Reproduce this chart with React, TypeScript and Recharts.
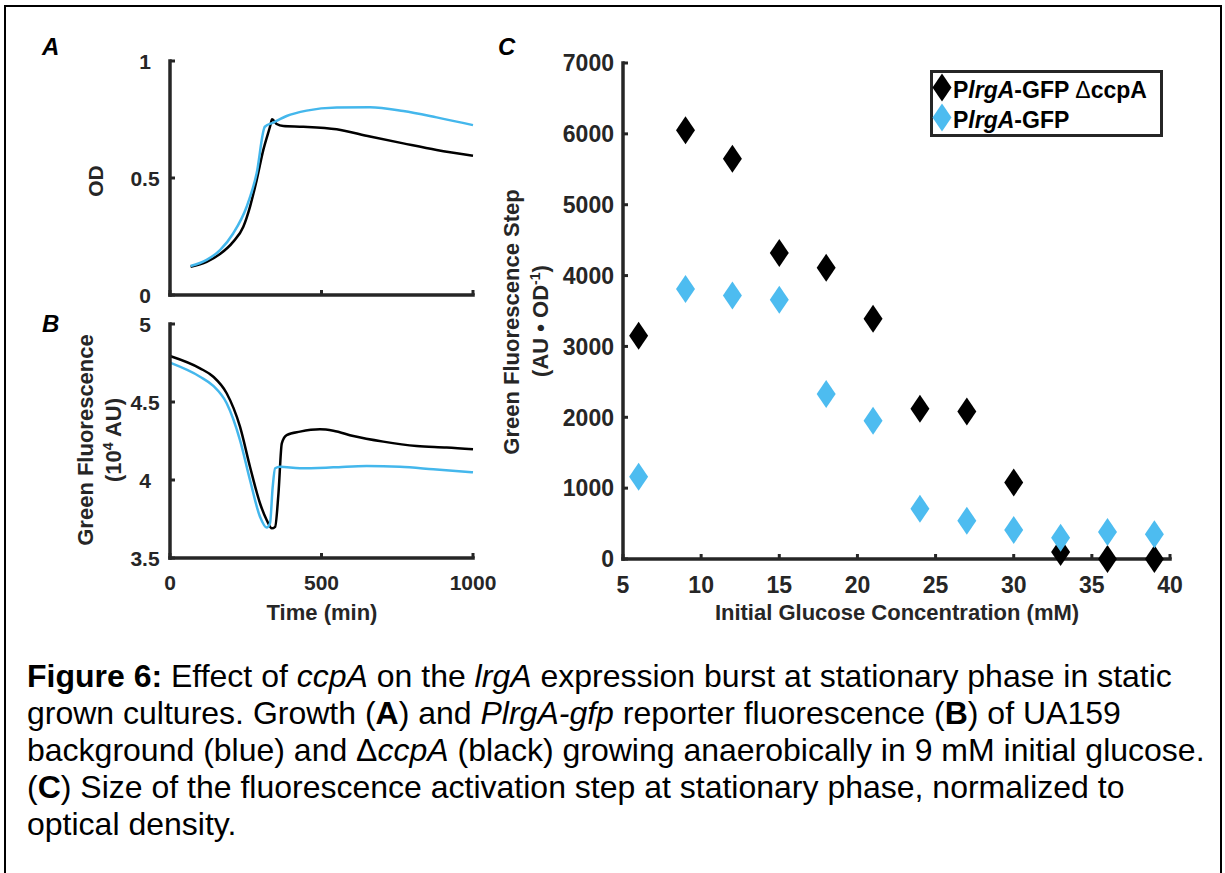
import { LineChart, Line, XAxis, YAxis, ScatterChart, Scatter } from "recharts"

const AXIS = "#262626"
const BLUE_LINE = "#44b7ec"
const BLUE_DOT = "#4dbcf0"
const FONT = "'Liberation Sans', Arial, Helvetica, sans-serif"

// Panel A: growth (OD) vs time (min)
const odTimeCcpA = [68, 121, 165, 209, 242, 264, 286, 308, 330, 337, 352, 374, 440, 550, 660, 770, 880, 1000]
const odCcpA = [0.121, 0.142, 0.175, 0.228, 0.292, 0.377, 0.491, 0.62, 0.719, 0.751, 0.731, 0.722, 0.719, 0.708, 0.677, 0.648, 0.62, 0.595]
const odTimeWt = [68, 121, 165, 209, 253, 286, 313, 341, 385, 451, 550, 660, 770, 880, 1000]
const odWt = [0.124, 0.15, 0.192, 0.264, 0.377, 0.52, 0.719, 0.737, 0.765, 0.788, 0.801, 0.802, 0.786, 0.759, 0.726]

// Panel B: green fluorescence (10^4 AU) vs time (min)
const flTimeCcpA = [0, 99, 143, 187, 231, 264, 297, 319, 336, 347, 358, 369, 385, 429, 495, 539, 605, 704, 814, 913, 1000]
const flCcpA = [4.795, 4.716, 4.662, 4.556, 4.342, 4.085, 3.851, 3.744, 3.69, 3.7, 3.915, 4.235, 4.288, 4.31, 4.325, 4.316, 4.282, 4.246, 4.218, 4.209, 4.197]
const flTimeWt = [0, 99, 143, 187, 231, 264, 297, 319, 330, 339, 347, 363, 429, 539, 649, 759, 869, 1000]
const flWt = [4.752, 4.662, 4.603, 4.492, 4.256, 4.0, 3.765, 3.695, 3.722, 3.957, 4.075, 4.085, 4.075, 4.081, 4.09, 4.085, 4.069, 4.049]

// Panel C: fluorescence step vs initial glucose (mM)
const glucose = [6, 9, 12, 15, 18, 21, 24, 27, 30, 33, 36, 39]
const stepCcpA = [3150, 6050, 5650, 4320, 4110, 3390, 2120, 2080, 1080, 100, 0, 0]
const stepWt = [1160, 3810, 3720, 3660, 2330, 1950, 710, 540, 410, 300, 380, 350]

const timeTicks = [0, 500, 1000]
const odTicks = [0, 0.5, 1]
const flTicks = [3.5, 4, 4.5, 5]
const glucoseTicks = [5, 10, 15, 20, 25, 30, 35, 40]
const stepTicks = [0, 1000, 2000, 3000, 4000, 5000, 6000, 7000]

const toPoints = (xs: number[], ys: number[]) => xs.map((x, i) => ({ x, y: ys[i] }))

const axisLine = { stroke: AXIS, strokeWidth: 3.5, strokeLinecap: "square" as const }

function LeftTick(props: any) {
  const { x, y, payload, labelX, anchor, fontSize } = props
  return (
    <g>
      <line x1={x} x2={x + 5} y1={y} y2={y} stroke={AXIS} strokeWidth={3} />
      <text
        x={x + labelX}
        y={y}
        dy="0.36em"
        textAnchor={anchor}
        fontSize={fontSize}
        fontWeight="bold"
        fontFamily={FONT}
        fill={AXIS}
      >
        {String(payload.value)}
      </text>
    </g>
  )
}

function BottomTick(props: any) {
  const { x, y, payload, showLabel, labelY, fontSize } = props
  return (
    <g>
      <line x1={x} x2={x} y1={y} y2={y - 5} stroke={AXIS} strokeWidth={3} />
      {showLabel && (
        <text
          x={x}
          y={y + labelY}
          textAnchor="middle"
          fontSize={fontSize}
          fontWeight="bold"
          fontFamily={FONT}
          fill={AXIS}
        >
          {String(payload.value)}
        </text>
      )}
    </g>
  )
}

const diamond = (fill: string) => (props: any) => {
  const { cx, cy } = props
  return (
    <polygon
      points={`${cx},${cy - 14} ${cx + 9.5},${cy} ${cx},${cy + 14} ${cx - 9.5},${cy}`}
      fill={fill}
    />
  )
}

function TimePanel({
  top,
  height,
  plotTop,
  xAxisHeight,
  domain,
  ticks,
  showX,
  black,
  blue,
}: {
  top: number
  height: number
  plotTop: number
  xAxisHeight: number
  domain: [number, number]
  ticks: number[]
  showX: boolean
  black: { x: number; y: number }[]
  blue: { x: number; y: number }[]
}) {
  return (
    <div style={{ position: "absolute", left: 0, top }}>
      <LineChart width={500} height={height} margin={{ top: plotTop, right: 27, left: 0, bottom: 0 }}>
        <XAxis
          dataKey="x"
          type="number"
          domain={[0, 1000]}
          ticks={timeTicks}
          height={xAxisHeight}
          axisLine={axisLine}
          tickLine={false}
          tickSize={0}
          tickMargin={0}
          interval={0}
          tick={(p: any) => <BottomTick {...p} showLabel={showX} labelY={32} fontSize={21} />}
        />
        <YAxis
          dataKey="y"
          type="number"
          domain={domain}
          ticks={ticks}
          width={170}
          axisLine={axisLine}
          tickLine={false}
          tickSize={0}
          tickMargin={0}
          interval={0}
          tick={(p: any) => <LeftTick {...p} labelX={-25} anchor="middle" fontSize={21} />}
        />
        <Line
          data={black}
          dataKey="y"
          type="monotone"
          stroke="#000"
          strokeWidth={2.5}
          dot={false}
          isAnimationActive={false}
        />
        <Line
          data={blue}
          dataKey="y"
          type="monotone"
          stroke={BLUE_LINE}
          strokeWidth={2.5}
          dot={false}
          isAnimationActive={false}
        />
      </LineChart>
    </div>
  )
}

const labelStyle = {
  fontFamily: FONT,
  fontWeight: "bold" as const,
  fill: AXIS,
}

export default function App() {
  return (
    <div style={{ position: "absolute", left: 0, top: 0, width: 1225, height: 873, background: "#fff", overflow: "hidden" }}>
      <TimePanel
        top={0}
        height={320}
        plotTop={61}
        xAxisHeight={25}
        domain={[0, 1]}
        ticks={odTicks}
        showX={false}
        black={toPoints(odTimeCcpA, odCcpA)}
        blue={toPoints(odTimeWt, odWt)}
      />
      <TimePanel
        top={300}
        height={340}
        plotTop={24}
        xAxisHeight={82}
        domain={[3.5, 5]}
        ticks={flTicks}
        showX={true}
        black={toPoints(flTimeCcpA, flCcpA)}
        blue={toPoints(flTimeWt, flWt)}
      />

      <div style={{ position: "absolute", left: 480, top: 0 }}>
        <ScatterChart width={745} height={640} margin={{ top: 63, right: 55, left: 0, bottom: 0 }}>
          <XAxis
            dataKey="x"
            type="number"
            domain={[5, 40]}
            ticks={glucoseTicks}
            height={81}
            axisLine={axisLine}
            tickLine={false}
            tickSize={0}
            tickMargin={0}
            interval={0}
            tick={(p: any) => <BottomTick {...p} showLabel={true} labelY={34} fontSize={23} />}
          />
          <YAxis
            dataKey="y"
            type="number"
            domain={[0, 7000]}
            ticks={stepTicks}
            width={143}
            axisLine={axisLine}
            tickLine={false}
            tickSize={0}
            tickMargin={0}
            interval={0}
            tick={(p: any) => <LeftTick {...p} labelX={-9} anchor="end" fontSize={23} />}
          />
          <Scatter
            data={toPoints(glucose, stepCcpA)}
            shape={diamond("#000")}
            isAnimationActive={false}
          />
          <Scatter
            data={toPoints(glucose, stepWt)}
            shape={diamond(BLUE_DOT)}
            isAnimationActive={false}
          />
        </ScatterChart>
      </div>

      {/* frame, panel letters, axis titles and legend */}
      <svg
        width={1225}
        height={873}
        style={{ position: "absolute", left: 0, top: 0, pointerEvents: "none" }}
      >
        <rect x={5} y={6} width={1216} height={900} fill="none" stroke="#000" strokeWidth={2} />

        <g fontFamily={FONT} fontWeight="bold" fontStyle="italic" fontSize={24} fill="#000">
          <text x={42} y={55}>A</text>
          <text x={42} y={332}>B</text>
          <text x={498} y={55}>C</text>
        </g>

        <g {...labelStyle} fontSize={21} textAnchor="middle">
          <text x={95} y={181} dy="0.36em" transform="rotate(-90 95 181)">OD</text>
        </g>
        <g {...labelStyle} fontSize={22} textAnchor="middle">
          <text x={85} y={440} dy="0.36em" transform="rotate(-90 85 440)">Green Fluorescence</text>
          <text x={113} y={440} dy="0.36em" transform="rotate(-90 113 440)">
            (10<tspan dy={-8} fontSize={14}>4</tspan>
            <tspan dy={8}> AU)</tspan>
          </text>
          <text x={322} y={620}>Time (min)</text>
          <text x={511} y={322} dy="0.36em" transform="rotate(-90 511 322)">Green Fluorescence Step</text>
          <text x={540} y={321} dy="0.36em" transform="rotate(-90 540 321)">
            (AU • OD<tspan dy={-8} fontSize={14}>-1</tspan>
            <tspan dy={8}>)</tspan>
          </text>
          <text x={897} y={620}>Initial Glucose Concentration (mM)</text>
        </g>

        <rect x={931.5} y={71.5} width={230} height={64} fill="#fff" stroke={AXIS} strokeWidth={3} />
        <polygon points="942,73.5 951.5,87.5 942,101.5 932.5,87.5" fill="#000" />
        <polygon points="942,103.5 951.5,117.5 942,131.5 932.5,117.5" fill={BLUE_DOT} />
        <g fontFamily={FONT} fontWeight="bold" fontSize={23} fill="#000">
          <text x={953} y={98}>
            P<tspan fontStyle="italic">lrgA</tspan>-GFP <tspan fontWeight="normal">Δ</tspan>ccpA
          </text>
          <text x={953} y={128}>
            P<tspan fontStyle="italic">lrgA</tspan>-GFP
          </text>
        </g>
      </svg>

      <div
        style={{
          position: "absolute",
          left: 27,
          top: 658,
          fontFamily: FONT,
          fontSize: 32,
          lineHeight: "37px",
          color: "#000",
          whiteSpace: "nowrap",
        }}
      >
        <b>Figure 6:</b> Effect of <i>ccpA</i> on the <i>lrgA</i> expression burst at stationary phase in static
        <br />
        grown cultures. Growth (<b>A</b>) and <i>PlrgA-gfp</i> reporter fluorescence (<b>B</b>) of UA159
        <br />
        background (blue) and Δ<i>ccpA</i> (black) growing anaerobically in 9 mM initial glucose.
        <br />
        (<b>C</b>) Size of the fluorescence activation step at stationary phase, normalized to
        <br />
        optical density.
      </div>
    </div>
  )
}
